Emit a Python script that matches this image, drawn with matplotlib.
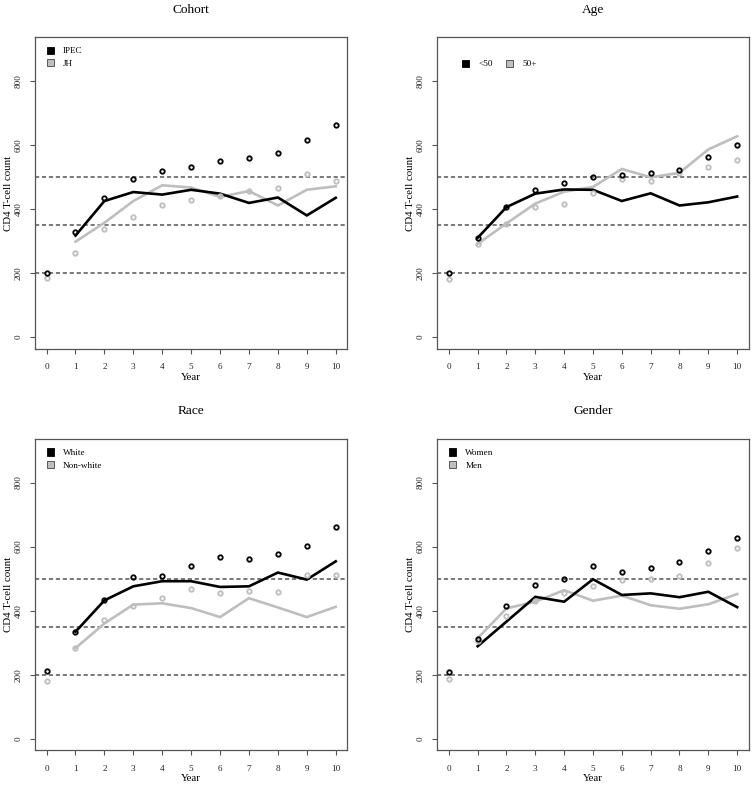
import matplotlib
matplotlib.use('Agg')
import matplotlib.pyplot as plt
from matplotlib.patches import Patch

plt.rcParams['font.family'] = ['Liberation Serif', 'DejaVu Serif']
plt.rcParams['lines.scale_dashes'] = False

# ---------------- data ----------------
years = [0, 1, 2, 3, 4, 5, 6, 7, 8, 9, 10]
line_years = [1, 2, 3, 4, 5, 6, 7, 8, 9, 10]
thresholds = [200, 350, 500]
y_ticks = [0, 200, 400, 600, 800]
titles = ['Cohort', 'Age', 'Race', 'Gender']

# Cohort
cohort_labels = ['IPEC', 'JH']
ipec_pts = [201, 327, 433, 493, 518, 532, 551, 560, 574, 616, 661]
jh_pts = [184, 264, 339, 376, 413, 429, 440, 456, 465, 508, 486]
ipec_line = [317, 425, 453, 445, 460, 448, 419, 436, 380, 435]
jh_line = [298, 357, 425, 474, 467, 438, 456, 411, 460, 471]

# Age
age_labels = ['<50', '50+']
young_pts = [199, 310, 406, 459, 482, 501, 507, 513, 523, 563, 600]
old_pts = [181, 291, 354, 407, 416, 451, 494, 486, 513, 531, 553]
young_line = [310, 406, 448, 461, 460, 425, 449, 411, 421, 439]
old_line = [291, 355, 417, 454, 469, 525, 499, 513, 586, 627]

# Race
race_labels = ['White', 'Non-white']
white_pts = [212, 334, 432, 504, 507, 538, 568, 562, 576, 602, 660]
nonwhite_pts = [181, 283, 371, 413, 439, 469, 455, 462, 459, 511, 511]
white_line = [334, 432, 476, 492, 492, 474, 476, 519, 497, 554]
nonwhite_line = [283, 360, 419, 423, 408, 380, 439, 410, 380, 412]

# Gender
gender_labels = ['Women', 'Men']
women_pts = [209, 311, 415, 479, 500, 538, 520, 532, 552, 586, 626]
men_pts = [186, 305, 384, 431, 455, 477, 496, 498, 508, 549, 595]
women_line = [289, 366, 443, 428, 498, 449, 454, 442, 459, 411]
men_line = [314, 407, 428, 464, 431, 447, 417, 406, 420, 452]

# ---------------- style ----------------
BLACK = '#000000'
GRAY = '#bebebe'
FRAME = '#555555'

W, H = 753, 786
fig = plt.figure(figsize=(W / 100, H / 100), dpi=100)

panels = [
    dict(title=titles[0], labels=cohort_labels, pts=(ipec_pts, jh_pts), lines=(ipec_line, jh_line),
         rect=(35, 37.3, 312.3, 311.4), horiz=False),
    dict(title=titles[1], labels=age_labels, pts=(young_pts, old_pts), lines=(young_line, old_line),
         rect=(437.3, 37.3, 311.4, 311.4), horiz=True),
    dict(title=titles[2], labels=race_labels, pts=(white_pts, nonwhite_pts), lines=(white_line, nonwhite_line),
         rect=(35, 439.0, 312.3, 311.3), horiz=False),
    dict(title=titles[3], labels=gender_labels, pts=(women_pts, men_pts), lines=(women_line, men_line),
         rect=(437.3, 439.0, 311.4, 311.3), horiz=False),
]

for p in panels:
    x0, y0, w, h = p['rect']
    ax = fig.add_axes([x0 / W, 1 - (y0 + h) / H, w / W, h / H])
    ax.set_xlim(-0.4, 10.4)
    ax.set_ylim(-36, 936)

    for t in thresholds:
        ax.axhline(t, color=FRAME, lw=1.1, linestyle=(0, (3.0, 2.0)), zorder=1)

    ax.plot(line_years, p['lines'][1], color=GRAY, lw=1.9, zorder=2, solid_joinstyle='miter')
    ax.plot(line_years, p['lines'][0], color=BLACK, lw=1.9, zorder=3, solid_joinstyle='miter')
    ax.plot(years, p['pts'][1], linestyle='none', marker='o', ms=3.2, mew=1.3,
            mfc='none', mec=GRAY, zorder=4)
    ax.plot(years, p['pts'][0], linestyle='none', marker='o', ms=3.2, mew=1.3,
            mfc='none', mec=BLACK, zorder=5)

    ax.set_xticks(years)
    ax.set_yticks(y_ticks)
    ax.tick_params(direction='out', length=3.4, width=0.8, color=FRAME,
                   labelsize=6.6, labelcolor='#222222')
    ax.tick_params(axis='x', pad=7)
    ax.tick_params(axis='y', pad=5.5, labelrotation=90)
    for lab in ax.get_yticklabels():
        lab.set_va('center')
    for s in ax.spines.values():
        s.set_color(FRAME)
        s.set_linewidth(0.9)

    ax.set_xlabel('Year', fontsize=7.8)
    ax.xaxis.set_label_coords(0.5, -28.6 / h)
    ax.xaxis.label.set_va('center')
    ax.set_ylabel('CD4 T-cell count', fontsize=7.8)
    ax.yaxis.set_label_coords(-26.7 / w, 0.5)
    ax.yaxis.label.set_va('center')

    handles = [Patch(facecolor=BLACK, edgecolor=BLACK, lw=0.6),
               Patch(facecolor=GRAY, edgecolor='#444444', lw=0.6)]
    if p['horiz']:
        ax.legend(handles, p['labels'], loc='upper left', ncol=2,
                  bbox_to_anchor=(24.5 / w, 1 - 22.5 / h), frameon=False, fontsize=6.6,
                  handlelength=0.8, handleheight=0.8, handletextpad=1.0,
                  columnspacing=1.4, borderpad=0, borderaxespad=0)
    else:
        ax.legend(handles, p['labels'], loc='upper left',
                  bbox_to_anchor=(11.5 / w, 1 - 9.5 / h), frameon=False, fontsize=6.6,
                  handlelength=0.8, handleheight=0.8, handletextpad=1.0,
                  labelspacing=0.4, borderpad=0, borderaxespad=0)

    fig.text((x0 + w / 2) / W, 1 - (y0 - 24.6) / H, p['title'], ha='center', va='baseline',
             fontsize=9.6, color='black')

fig.savefig('out.png', dpi=100)
